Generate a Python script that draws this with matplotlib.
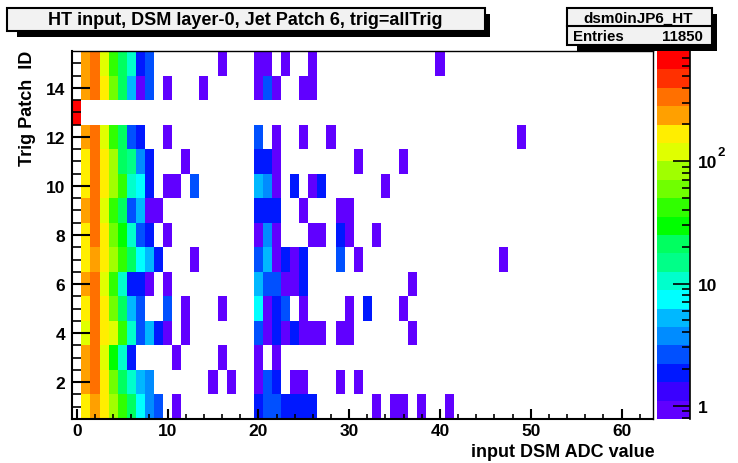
import numpy as np
import matplotlib
matplotlib.use("Agg")
import matplotlib.pyplot as plt
from matplotlib.colors import ListedColormap, BoundaryNorm
from matplotlib.patches import Rectangle
from matplotlib.ticker import FixedLocator, NullFormatter

plt.rcParams['font.family'] = ['Liberation Sans', 'DejaVu Sans']
plt.rcParams['font.weight'] = 'bold'

W, H = 738, 464

# contents per ADC bin, starting at bin 0, for trigger patch 1..15
row_1 = [0,165,235,165,84,42,21,7,4,3,0,1,0,0,0,0,0,0,0,0,2,3,3,2,2,2,2,0,0,0,0,0,0,1,0,1,1,0,1,0,0,1]
row_2 = [0,235,330,165,60,21,10,5,4,0,0,0,0,0,0,1,0,1,0,0,1,3,2,0,1,1,0,0,0,1,0,1]
row_3 = [0,235,330,118,30,10,2,0,0,0,0,1,0,0,0,0,1,0,0,0,1,0,1]
row_4 = [0,118,330,165,118,42,10,3,5,2,1,0,1,0,0,0,0,0,0,0,3,1,2,1,2,1,1,1,0,1,1,0,0,0,0,0,0,1]
row_5 = [0,165,330,165,60,21,5,3,0,0,3,0,1,0,0,0,1,0,0,0,7,1,2,3,0,1,0,0,0,0,1,0,2,0,0,0,1]
row_6 = [0,235,330,118,42,12,2,2,1,0,1,0,0,0,0,0,0,0,0,0,5,3,3,1,1,2,0,0,0,0,0,0,0,0,0,0,0,1]
row_7 = [0,165,235,165,84,42,21,7,5,2,0,0,0,1,0,0,0,0,0,0,3,5,1,2,1,2,0,0,0,3,0,1,0,0,0,0,0,0,0,0,0,0,0,0,0,0,0,1]
row_8 = [0,165,330,165,60,25,10,3,2,0,1,0,0,0,0,0,0,0,0,0,1,4,1,0,0,0,1,1,0,2,1,0,0,1]
row_9 = [0,235,330,118,42,21,3,5,1,1,0,0,0,0,0,0,0,0,0,0,2,2,2,0,0,1,0,0,0,1,1]
row_10 = [0,165,330,165,84,42,10,7,2,0,1,1,0,3,0,0,0,0,0,0,5,4,1,0,2,0,1,2,0,0,0,0,0,0,1]
row_11 = [0,165,330,165,84,21,15,4,2,0,0,0,1,0,0,0,0,0,0,0,2,2,1,0,0,0,0,0,0,0,0,1,0,0,0,0,1]
row_12 = [0,235,330,118,42,21,3,2,0,0,1,0,0,0,0,0,0,0,0,0,3,0,1,0,0,1,0,0,1,0,0,0,0,0,0,0,0,0,0,0,0,0,0,0,0,0,0,0,0,1]
row_13 = [660]
row_14 = [0,235,330,165,60,21,5,1,3,0,1,0,0,0,1,0,0,0,0,0,1,3,1,0,0,1,1]
row_15 = [0,235,330,118,42,21,10,2,3,0,0,0,0,0,0,0,1,0,0,0,1,1,0,1,0,0,1,0,0,0,0,0,0,0,0,0,0,0,0,0,1]
rows = [row_1, row_2, row_3, row_4, row_5, row_6, row_7, row_8,
        row_9, row_10, row_11, row_12, row_13, row_14, row_15]

# ROOT palette, 20 contours
band_colors = ['#6000ff', '#3a00ff', '#0018ff', '#0050ff', '#008cff',
               '#00b8ff', '#00ffff', '#00ffcc', '#00ff88', '#00ff60',
               '#00ff00', '#30ff00', '#70ff00', '#a0ff00', '#e0ff00',
               '#ffee00', '#ffa000', '#ff7000', '#ff3000', '#ff0000']
z_min, z_max = 0.78, 797.0

nbins = 64
z = np.zeros((len(rows), nbins))
for i, r in enumerate(rows):
    z[i, :len(r)] = r
z = np.ma.masked_equal(z, 0)

levels = np.logspace(np.log10(z_min), np.log10(z_max), len(band_colors) + 1)
cmap = ListedColormap(band_colors)
norm = BoundaryNorm(levels, cmap.N)

xedges = np.arange(nbins + 1) - 0.5
yedges = np.arange(len(rows) + 1) + 0.5


def box(x0, y0, x1, y1):
    # pixel box (top-left origin) to figure fractions
    return [x0 / W, 1 - y1 / H, (x1 - x0) / W, (y1 - y0) / H]


fig = plt.figure(figsize=(W / 100, H / 100), dpi=100)
ax = fig.add_axes(box(72.3, 52, 653.3, 420))
ax.pcolormesh(xedges, yedges, z, cmap=cmap, norm=norm, antialiased=False, linewidth=0)
ax.set_axisbelow(False)
ax.set_xlim(-0.5, 63.5)
ax.set_ylim(0.5, 15.5)
ax.set_xticks(np.arange(0, 61, 10))
ax.set_xticks(np.arange(0, 64, 2), minor=True)
ax.set_yticks(np.arange(2, 15, 2))
ax.set_yticks(np.arange(1, 15.5, 0.5), minor=True)
ax.tick_params(axis='x', which='major', direction='in', length=7.5, width=1.5, labelsize=12.5, pad=3)
ax.tick_params(axis='x', which='minor', direction='in', length=3.7, width=1.2)
ax.tick_params(axis='y', which='major', direction='in', length=13, width=1.5, labelsize=12.5, pad=5)
ax.tick_params(axis='y', which='minor', direction='in', length=6.5, width=1.2)
for s in ax.spines.values():
    s.set_linewidth(1.5)
ax.spines['top'].set_linewidth(1.0)
ax.spines['right'].set_linewidth(1.0)

# palette on the right
cax = fig.add_axes(box(657, 52, 689.5, 420))
cax.pcolormesh([0, 1], levels, np.arange(len(band_colors))[:, None], cmap=cmap,
               vmin=-0.5, vmax=len(band_colors) - 0.5, antialiased=False, linewidth=0)
cax.set_yscale('log')
cax.set_ylim(z_min, z_max)
cax.set_xlim(0, 1)
cax.set_xticks([])
cax.yaxis.tick_right()
cax.yaxis.set_major_locator(FixedLocator([1, 10, 100]))
cax.set_yticklabels(['1', '10', '10'])
minor = [m * d for d in (1, 10, 100) for m in range(2, 10)] + [0.8, 0.9]
cax.yaxis.set_minor_locator(FixedLocator(minor))
cax.yaxis.set_minor_formatter(NullFormatter())
cax.tick_params(axis='y', which='major', direction='in', length=12.5, width=1.2, labelsize=12.5, pad=6)
cax.tick_params(axis='y', which='minor', direction='in', length=6, width=1.2)
for name, s in cax.spines.items():
    s.set_visible(name == 'right')
    s.set_linewidth(1.2)
# exponent of the 10^2 label
fig.text(717.5 / W, 1 - 153 / H, '2', ha='left', va='center', fontsize=9.5)

# axis titles
fig.text(655 / W, 1 - 452.5 / H, 'input DSM ADC value', ha='right', va='center', fontsize=13)
fig.text(27 / W, 1 - 51 / H, 'Trig Patch  ID', rotation=90, ha='center', va='top', fontsize=13)


def pave(x0, y0, x1, y1):
    # grey ROOT pave with its black shadow below and to the right
    fig.add_artist(Rectangle(((x0 + 10) / W, 1 - (y1 + 6) / H), (x1 - x0 - 5) / W, (y1 - y0) / H,
                             transform=fig.transFigure, fc='black', ec='black', lw=0, zorder=5))
    fig.add_artist(Rectangle((x0 / W, 1 - y1 / H), (x1 - x0) / W, (y1 - y0) / H,
                             transform=fig.transFigure, fc='#f2f2f2', ec='black', lw=1.5, zorder=6))


pave(7, 9, 485, 32)
fig.text(245 / W, 1 - 20.5 / H, 'HT input, DSM layer-0, Jet Patch 6, trig=allTrig',
         ha='center', va='center', fontsize=13, zorder=7)

pave(566.7, 9, 711.7, 45.5)
fig.add_artist(plt.Line2D([566.7 / W, 711.7 / W], [1 - 27 / H, 1 - 27 / H], color='black', lw=1.5, zorder=7))
fig.text(638 / W, 1 - 18.5 / H, 'dsm0inJP6_HT', ha='center', va='center', fontsize=11, zorder=7)
fig.text(572.7 / W, 1 - 37 / H, 'Entries', ha='left', va='center', fontsize=10.8, zorder=7)
fig.text(703 / W, 1 - 37 / H, '11850', ha='right', va='center', fontsize=10.8, zorder=7)

fig.savefig('out.png', dpi=100)
